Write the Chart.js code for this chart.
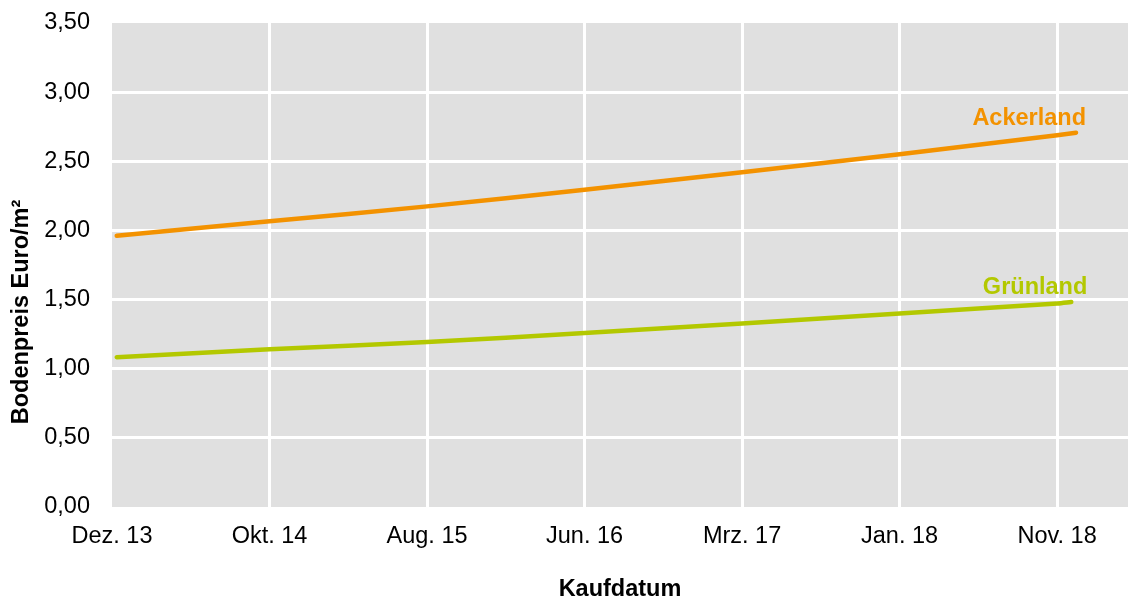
<!DOCTYPE html>
<html>
<head>
<meta charset="utf-8">
<script src="https://cdn.jsdelivr.net/npm/chart.js@4/dist/chart.umd.min.js"></script>
<style>
  body { margin: 0; background: #fff; }
</style>
</head>
<body>
<canvas id="myChart" width="1128" height="601"></canvas>
<script>
// months counted from Dez. 13
let tickMonths = [0, 10, 20, 30, 40, 50, 60];
let tickLabels = ['Dez. 13', 'Okt. 14', 'Aug. 15', 'Jun. 16', 'Mrz. 17', 'Jan. 18', 'Nov. 18'];
let ackerMonths = [0.3, 10, 20, 30, 40, 50, 60, 61.2];
let ackerland = [1.962, 2.066, 2.174, 2.294, 2.421, 2.551, 2.689, 2.707];
let gruenMonths = [0.3, 10, 20, 30, 40, 50, 60, 60.9];
let gruenland = [1.083, 1.140, 1.193, 1.258, 1.327, 1.399, 1.472, 1.483];

let fontFam = '"Liberation Sans", Arial, sans-serif';

function toPoints(xs, ys) {
    let pts = [];
    for (let i = 0; i < xs.length; i++) {
        pts.push({ x: xs[i], y: ys[i] });
    }
    return pts;
}

// grey plot background
const plotBg = {
    id: 'plotBg',
    beforeDraw(chart) {
        const a = chart.chartArea;
        const c = chart.ctx;
        c.save();
        c.fillStyle = '#e0e0e0';
        c.fillRect(a.left, a.top, a.right - a.left, a.bottom - a.top);
        c.restore();
    }
};

// series names at the end of each line + rotated y title
const endLabels = {
    id: 'endLabels',
    afterDatasetsDraw(chart) {
        const c = chart.ctx;
        c.save();
        c.font = 'bold 23.5px ' + fontFam;
        c.textAlign = 'right';
        c.textBaseline = 'alphabetic';
        chart.data.datasets.forEach(function(ds, i) {
            const pts = chart.getDatasetMeta(i).data;
            const last = pts[pts.length - 1];
            c.fillStyle = ds.borderColor;
            c.fillText(ds.label, last.x + ds.labelDx, last.y - 8);
        });
        c.translate(22, 312);
        c.rotate(-Math.PI / 2);
        c.textAlign = 'center';
        c.textBaseline = 'middle';
        c.fillStyle = '#000';
        c.fillText('Bodenpreis Euro/m²', 0, 0);
        c.restore();
    }
};

const ctx = document.getElementById('myChart').getContext('2d');
const myChart = new Chart(ctx, {
    type: 'line',
    data: {
        datasets: [{
            label: 'Ackerland',
            data: toPoints(ackerMonths, ackerland),
            borderColor: '#f39200',
            borderWidth: 4.5,
            borderCapStyle: 'round',
            pointRadius: 0,
            tension: 0.3,
            labelDx: 10
        },
        {
            label: 'Grünland',
            data: toPoints(gruenMonths, gruenland),
            borderColor: '#b3c800',
            borderWidth: 4.5,
            borderCapStyle: 'round',
            pointRadius: 0,
            tension: 0.3,
            labelDx: 16
        }]
    },
    options: {
        responsive: false,
        animation: false,
        layout: { padding: { top: 23, right: 0, left: 0, bottom: 0 } },
        plugins: {
            legend: { display: false },
            tooltip: { enabled: false }
        },
        scales: {
            x: {
                type: 'linear',
                min: 0,
                max: 64.5,
                afterBuildTicks: function(scale) {
                    scale.ticks = tickMonths.map(v => ({ value: v }));
                },
                afterFit: function(scale) {
                    scale.height = 94;
                    scale.paddingLeft = 0;
                    scale.paddingRight = 0;
                },
                grid: {
                    color: c => c.tick && c.tick.value === 0 ? 'rgba(0,0,0,0)' : '#ffffff',
                    lineWidth: 3,
                    drawTicks: false
                },
                border: { display: false },
                ticks: {
                    padding: 15,
                    color: '#000',
                    maxRotation: 0,
                    font: { size: 23.5, family: fontFam },
                    callback: function(v) {
                        const i = tickMonths.indexOf(v);
                        return i >= 0 ? tickLabels[i] : '';
                    }
                },
                title: {
                    display: true,
                    text: 'Kaufdatum',
                    color: '#000',
                    padding: { top: 0, bottom: -3 },
                    font: { size: 23.5, weight: 'bold', family: fontFam }
                }
            },
            y: {
                min: 0,
                max: 3.5,
                afterFit: function(scale) {
                    scale.width = 112;
                    scale.paddingTop = 0;
                    scale.paddingBottom = 0;
                },
                grid: {
                    color: c => c.tick && (c.tick.value === 0 || c.tick.value === 3.5) ? 'rgba(0,0,0,0)' : '#ffffff',
                    lineWidth: 3,
                    drawTicks: false
                },
                border: { display: false },
                ticks: {
                    stepSize: 0.5,
                    padding: 22,
                    color: '#000',
                    font: { size: 23.5, family: fontFam },
                    callback: v => v.toFixed(2).replace('.', ',')
                }
            }
        }
    },
    plugins: [plotBg, endLabels]
});
</script>
</body>
</html>
